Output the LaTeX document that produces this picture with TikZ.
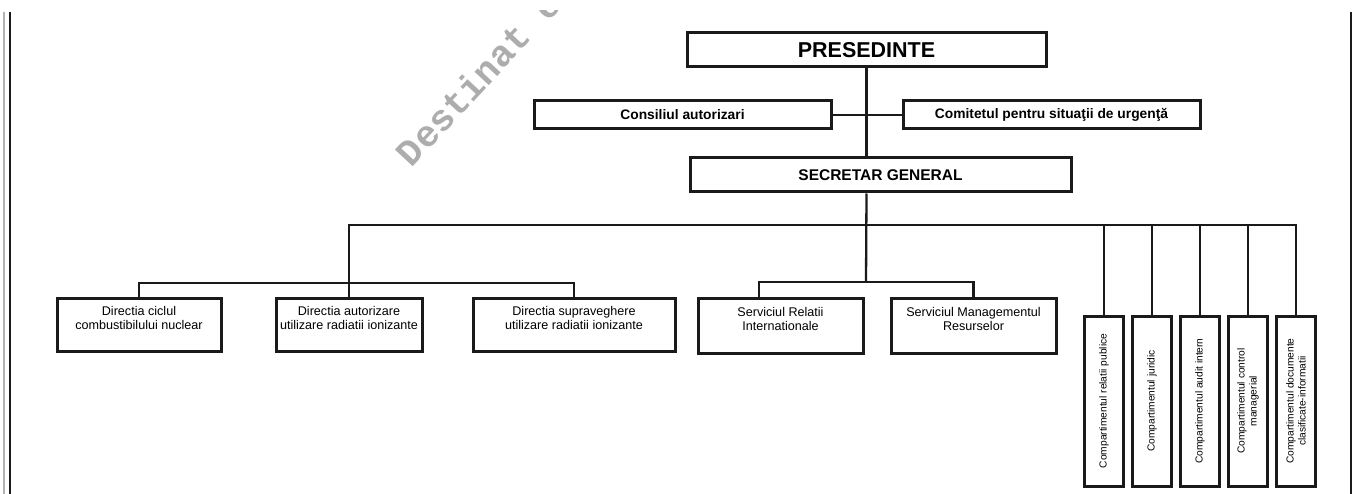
\documentclass[tikz,border=0pt]{standalone}
\usepackage{fontspec}
\setmainfont{Liberation Sans}
\newfontfamily\stampfont{Liberation Mono}
\definecolor{ink}{HTML}{1A1A1A}

\begin{document}
\begin{tikzpicture}[x=1pt, y=-1pt,
  box/.style={draw=ink, line width=3pt, fill=white, align=center, inner sep=2pt},
  link/.style={draw=ink, line width=2.3pt},
  headbox/.style={box, font=\bfseries\fontsize{13.8}{16}\selectfont, minimum height=28pt},
  unitbox/.style={box, font=\fontsize{12.6}{14}\selectfont, minimum height=53pt},
  compbox/.style={box, rotate=90, minimum width=170pt, minimum height=39pt,
                  font=\fontsize{10.2}{12}\selectfont}
]
  \useasboundingbox (0,0) rectangle (1356,494);

  % page edges and stamp (cut at the top of the scan)
  \draw[black!30, line width=1.4pt] (4,12) -- (4,494);
  \draw[ink, line width=2.6pt] (10,12) -- (10,494);
  \draw[ink, line width=2.6pt] (1351,12) -- (1351,494);
  \begin{scope}
    \clip (0,11) rectangle (1356,494);
    \node[text=black!32, font=\stampfont\bfseries\fontsize{37}{37}\selectfont, rotate=47]
      (stamp) at (478,78) {Destinat e};
  \end{scope}

  % top of the chart
  \node[box, font=\bfseries\fontsize{21.5}{24}\selectfont,
        minimum width=359pt, minimum height=34pt] (pres) at (866.5,50) {PRESEDINTE};
  \node[headbox, minimum width=297pt] (consiliu) at (682.5,115) {Consiliul autorizari};
  \node[headbox, minimum width=297pt] (comitet)  at (1051.5,115)
    {Comitetul pentru situaţii de urgenţă};
  \node[box, font=\bfseries\fontsize{15.5}{18}\selectfont,
        minimum width=381pt, minimum height=34pt] (secretar) at (880.5,175) {SECRETAR GENERAL};

  % directions and services
  \node[unitbox, minimum width=164pt] (dciclu)  at (139,324.5)
    {Directia ciclul\\combustibilului nuclear\\\mbox{}};
  \node[unitbox, minimum width=146pt] (dautor)  at (349,325)
    {Directia autorizare\\utilizare radiatii ionizante\\\mbox{}};
  \node[unitbox, minimum width=202pt] (dsuprav) at (574,324.5)
    {Directia supraveghere\\utilizare radiatii ionizante\\\mbox{}};
  \node[unitbox, minimum width=165pt, minimum height=55pt] (srelatii) at (780.5,325.5)
    {Serviciul Relatii\\Internationale\\\mbox{}};
  \node[unitbox, minimum width=165pt, minimum height=55pt] (sresurse) at (973.5,325.5)
    {Serviciul Managementul\\Resurselor\\\mbox{}};

  % compartments (rotated, east is the top side)
  \node[compbox] (crelatii) at (1104,401) {Compartimentul relatii publice};
  \node[compbox] (cjuridic) at (1152,401) {Compartimentul juridic};
  \node[compbox] (caudit)   at (1200,401) {Compartimentul audit intern};
  \node[compbox] (ccontrol) at (1248,401) {Compartimentul control\\managerial};
  \node[compbox] (cdocum)   at (1296,401) {Compartimentul documente\\clasificate-informatii};

  % connectors
  \coordinate (mainbus) at (866,225);
  \coordinate (dirbus)  at (349,283);
  \coordinate (servbus) at (866,282);

  \draw[link] (pres.south) -- (pres.south |- secretar.north);
  \draw[link] (consiliu.east) -- (comitet.west);
  \draw[link] (dautor.north) |- (mainbus) -| (cdocum.east);
  \draw[link] (pres.south |- secretar.south) -- (servbus);
  \draw[link] ([xshift=-21.5pt]srelatii.north) |- (servbus) -| (sresurse.north);
  \draw[link] (dciclu.north) |- (dirbus) -| (dsuprav.north);
  \draw[link] (crelatii.east) -- (crelatii.east |- mainbus);
  \draw[link] (cjuridic.east) -- (cjuridic.east |- mainbus);
  \draw[link] (caudit.east)   -- (caudit.east |- mainbus);
  \draw[link] (ccontrol.east) -- (ccontrol.east |- mainbus);
\end{tikzpicture}
\end{document}
